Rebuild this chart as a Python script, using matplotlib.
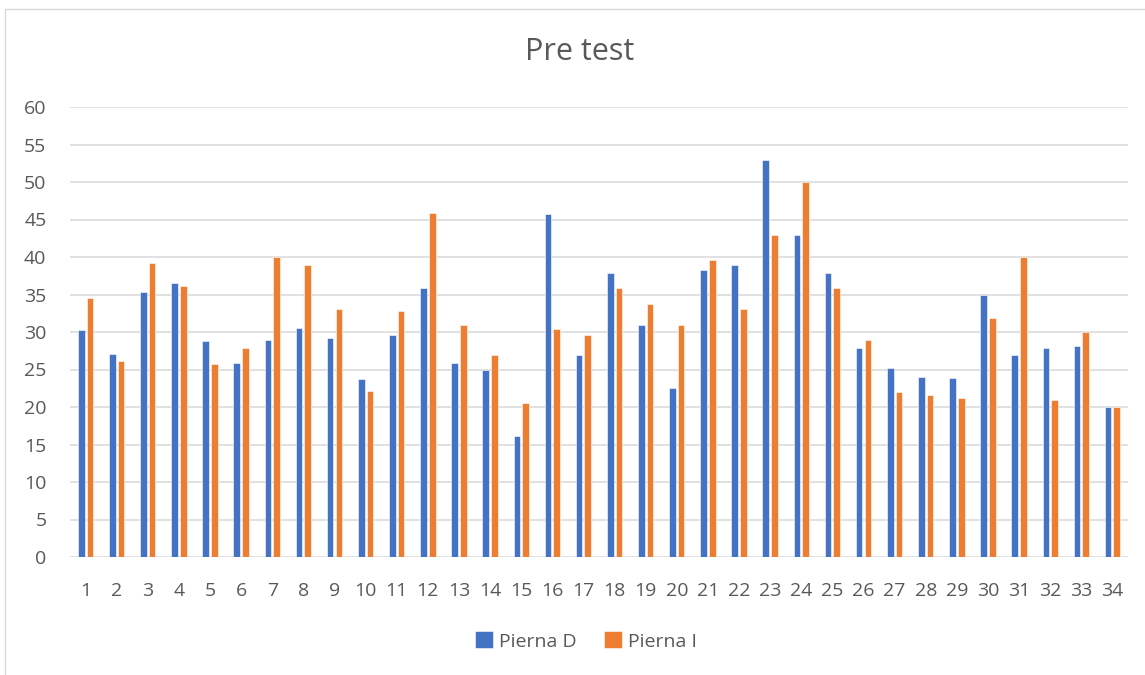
import numpy as np
import matplotlib
matplotlib.use("Agg")
import matplotlib.pyplot as plt
from matplotlib.patches import Rectangle

plt.rcParams["font.family"] = ["Open Sans", "DejaVu Sans"]

participants = [str(i) for i in range(1, 35)]
pierna_d = [30.3, 27.1, 35.4, 36.6, 28.8, 25.9, 28.9, 30.5, 29.2, 23.7,
            29.6, 35.9, 25.9, 24.9, 16.2, 45.7, 26.9, 37.9, 31.0, 22.6,
            38.3, 38.9, 53.0, 42.9, 37.9, 27.9, 25.2, 24.0, 23.9, 34.9,
            26.9, 27.9, 28.1, 20.0]
pierna_i = [34.5, 26.1, 39.2, 36.2, 25.7, 27.9, 40.0, 39.0, 33.1, 22.1,
            32.8, 45.9, 30.9, 26.9, 20.5, 30.4, 29.6, 35.9, 33.7, 30.9,
            39.6, 33.1, 42.9, 50.0, 35.9, 29.0, 22.0, 21.6, 21.2, 31.9,
            40.0, 20.9, 30.0, 20.0]

blue, orange = "#4472C4", "#ED7D31"
grey_txt = "#595959"

W, H = 1145, 675
fig = plt.figure(figsize=(W / 100, H / 100), dpi=100)
ax = fig.add_axes([70 / W, 1 - 557 / H, (1128 - 70) / W, (557 - 107) / H])

x = np.arange(1, len(participants) + 1)
w = 0.215
off = 0.14
ax.bar(x - off, pierna_d, w, color=blue, edgecolor="white", linewidth=0.4,
       label="Pierna D", zorder=3)
ax.bar(x + off, pierna_i, w, color=orange, edgecolor="white", linewidth=0.4,
       label="Pierna I", zorder=3)

ax.set_xlim(0.5, len(participants) + 0.5)
ax.set_ylim(0, 60)
ax.set_yticks(range(0, 61, 5))
ax.set_xticks(x)
ax.set_xticklabels(participants)
ax.grid(axis="y", color="#D9D9D9", linewidth=1.1, zorder=0)
for s in ax.spines.values():
    s.set_visible(False)
ax.tick_params(length=0, labelsize=14, colors=grey_txt)
ax.tick_params(axis="x", pad=18)
ax.tick_params(axis="y", pad=17)

fig.text(580 / W, 1 - 52.5 / H, "Pre test", ha="center", va="center",
         fontsize=22, color=grey_txt)

fig.legend(loc="center", bbox_to_anchor=(586 / W, 1 - 641 / H), ncol=2,
           frameon=False, fontsize=14, labelcolor=grey_txt,
           handlelength=0.95, handleheight=0.95, handletextpad=0.3,
           columnspacing=1.4)

# chart border (cropped at right / bottom)
fig.patches.append(Rectangle((5 / W, -0.05), 1.1, 1 - 9 / H + 0.05,
                             transform=fig.transFigure, fill=False,
                             edgecolor="#D9D9D9", linewidth=1.0))

fig.savefig("out.png", dpi=100)
